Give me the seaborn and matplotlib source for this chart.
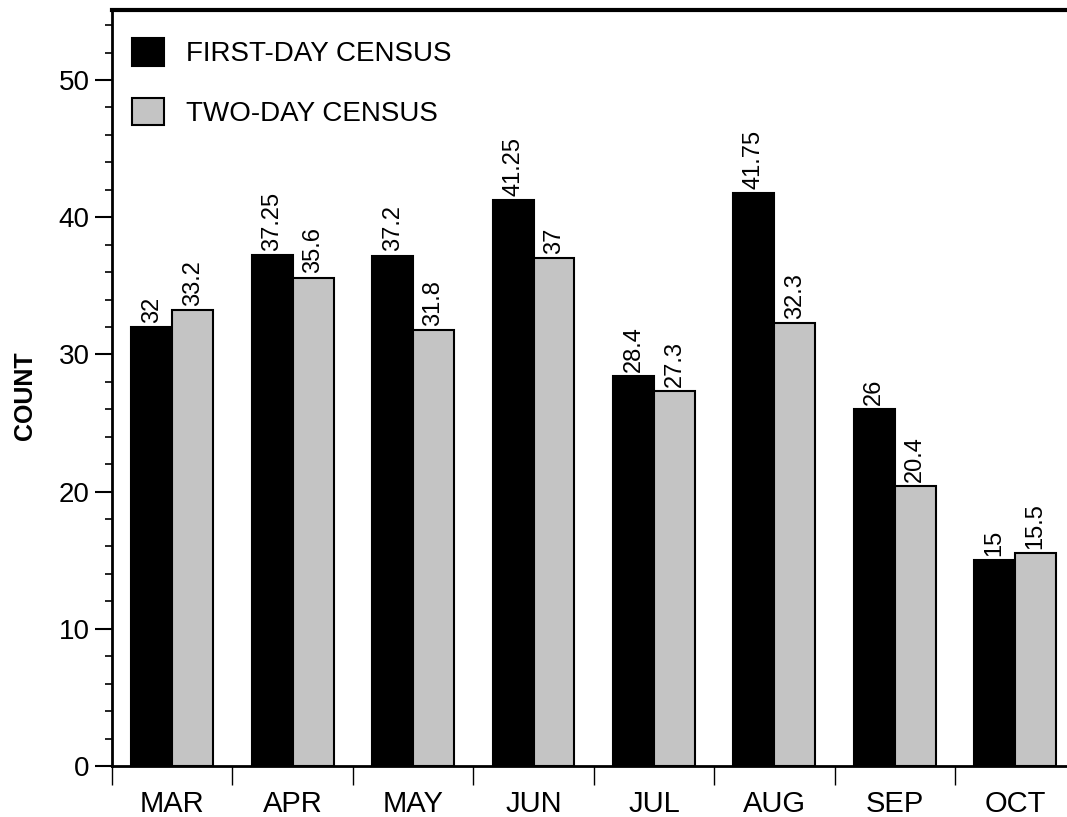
import pandas as pd
import matplotlib
matplotlib.use("Agg")
import matplotlib.pyplot as plt
from matplotlib.ticker import MultipleLocator, FixedLocator
import seaborn as sns

months = ["MAR", "APR", "MAY", "JUN", "JUL", "AUG", "SEP", "OCT"]
first_day = [32, 37.25, 37.2, 41.25, 28.4, 41.75, 26, 15]
two_day = [33.2, 35.6, 31.8, 37, 27.3, 32.3, 20.4, 15.5]
series = ["FIRST-DAY CENSUS", "TWO-DAY CENSUS"]

df = pd.DataFrame({
    "month": months * 2,
    "count": first_day + two_day,
    "census": [series[0]] * len(months) + [series[1]] * len(months),
})

sns.set_style("ticks")
plt.rcParams["font.family"] = ["Liberation Sans", "DejaVu Sans"]
for key in ["text.color", "axes.labelcolor", "xtick.color", "ytick.color", "axes.edgecolor"]:
    plt.rcParams[key] = "black"

fig = plt.figure(figsize=(10.67, 8.17), dpi=100)
ax = fig.add_axes([112 / 1067, 51 / 817, 955 / 1067, 756 / 817])

sns.barplot(data=df, x="month", y="count", hue="census", order=months,
            hue_order=series, palette=["black", "#c4c4c4"], width=0.68,
            edgecolor="black", linewidth=1.5, ax=ax)

for cont in ax.containers:
    ax.bar_label(cont, fmt="%g", rotation=90, padding=3, fontsize=17)

ax.set_ylim(0, 55.1)
ax.set_xlim(-0.5, 7.43)
ax.yaxis.set_major_locator(MultipleLocator(10))
ax.yaxis.set_minor_locator(MultipleLocator(2))
ax.xaxis.set_minor_locator(FixedLocator([i - 0.5 for i in range(len(months) + 1)]))

ax.tick_params(axis="y", which="major", length=12, width=1.5, labelsize=20, pad=4)
ax.tick_params(axis="y", which="minor", length=5, width=1.2)
ax.tick_params(axis="x", which="major", length=0, labelsize=21, pad=17)
ax.tick_params(axis="x", which="minor", length=14, width=1)

ax.set_xlabel("")
ax.set_ylabel("COUNT", fontsize=18, fontweight="bold")
ax.yaxis.set_label_coords(-0.079, 0.49)

ax.spines["right"].set_visible(False)
ax.spines["top"].set_linewidth(3)
ax.spines["left"].set_linewidth(2)
ax.spines["bottom"].set_linewidth(2)

ax.legend(ax.containers, series, loc="upper left", bbox_to_anchor=(0.021, 0.963),
          frameon=False, fontsize=20, handlelength=1.15, handleheight=1.15,
          handletextpad=0.8, labelspacing=1.1, borderpad=0, borderaxespad=0)

fig.savefig("out.png", dpi=100)
